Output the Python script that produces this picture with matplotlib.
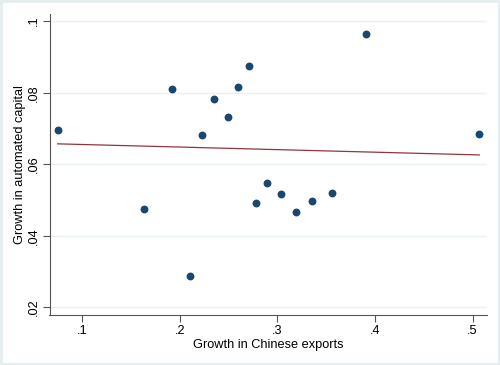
import matplotlib.pyplot as plt
import numpy as np

plt.rcParams['font.family'] = ['Liberation Sans', 'DejaVu Sans']

# growth in Chinese exports vs growth in automated capital
exports = [0.0748, 0.1922, 0.2226, 0.2352, 0.2496, 0.2598, 0.2705, 0.3904, 0.5068,
           0.1629, 0.2103, 0.2783, 0.2892, 0.3033, 0.3193, 0.3350, 0.3558]
capital = [0.0695, 0.0810, 0.0683, 0.0782, 0.0731, 0.0816, 0.0875, 0.0964, 0.0685,
           0.0475, 0.0288, 0.0491, 0.0547, 0.0517, 0.0466, 0.0498, 0.0519]
# fitted line as shown in the chart
fit_x = [0.0748, 0.5068]
fit_y = [0.0657, 0.0626]
xticks = [0.1, 0.2, 0.3, 0.4, 0.5]
yticks = [0.02, 0.04, 0.06, 0.08, 0.1]
xticklabels = ['.1', '.2', '.3', '.4', '.5']
yticklabels = ['.02', '.04', '.06', '.08', '.1']

fig = plt.figure(figsize=(5, 3.65), dpi=100)
fig.patch.set_facecolor('white')
fig.patch.set_edgecolor('#e6eef0')
fig.patch.set_linewidth(2.5)
ax = fig.add_axes([0.099, 0.137, 0.8756, 0.8246])

for t in yticks:
    ax.axhline(t, color='#eaf2f3', lw=1.0, zorder=0)
ax.scatter(exports, capital, s=32, color='#1a476f', zorder=3, linewidths=0)
ax.plot(fit_x, fit_y, color='#90353b', lw=0.9, zorder=2)

ax.set_xlim(0.0664, 0.515)
ax.set_ylim(0.01785, 0.102)
ax.set_xticks(xticks)
ax.set_xticklabels(xticklabels)
ax.set_yticks(yticks)
ax.set_yticklabels(yticklabels, rotation=90, va='center')
ax.tick_params(labelsize=9.2, length=5, width=0.8, color='#555555', pad=2)
for s in ['top', 'right']:
    ax.spines[s].set_visible(False)
for s in ['left', 'bottom']:
    ax.spines[s].set_color('#555555')
    ax.spines[s].set_linewidth(0.8)
ax.set_xlabel('Growth in Chinese exports', fontsize=9.2, labelpad=2)
ax.set_ylabel('Growth in automated capital', fontsize=9.2, labelpad=1)

plt.savefig('out.png', dpi=100, facecolor=fig.get_facecolor(), edgecolor=fig.get_edgecolor())
